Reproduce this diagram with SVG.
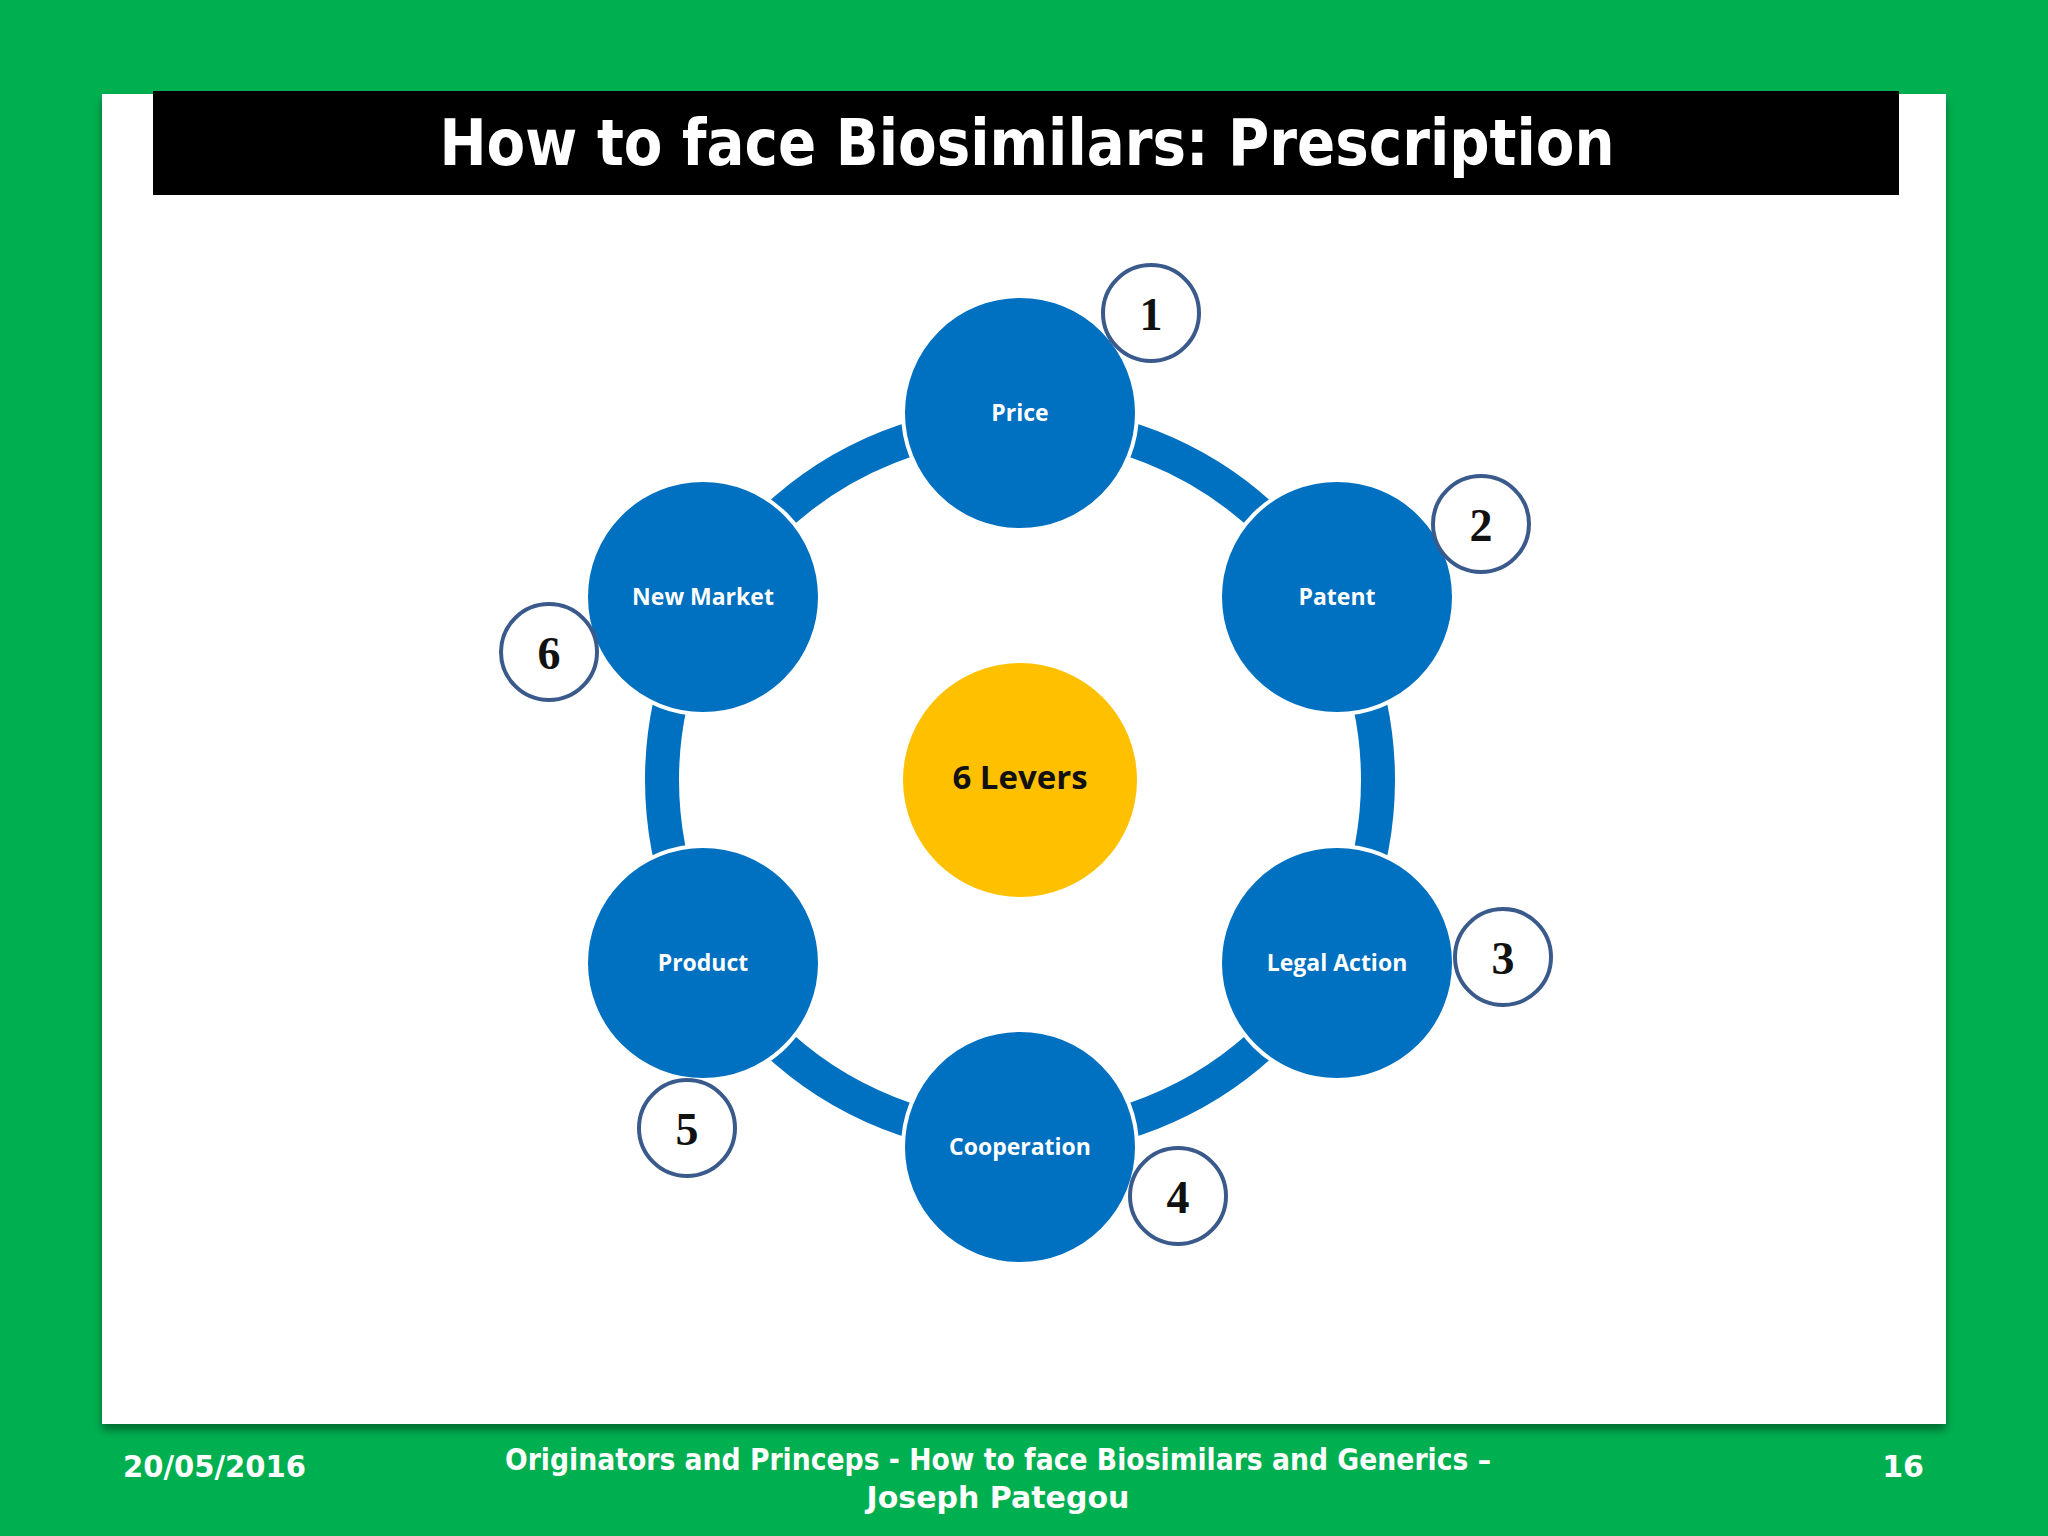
<svg xmlns="http://www.w3.org/2000/svg" width="2048" height="1536" viewBox="0 0 2048 1536">
<defs>
<style>
.node{fill:#0070C0}
.lbl{fill:#fff;font-family:"Open Sans","DejaVu Sans",sans-serif;font-weight:bold;font-size:23px;text-anchor:middle}
.num circle{fill:#fff;stroke:#3B5A8C;stroke-width:4}
.num text{font-family:"Liberation Serif",serif;font-weight:bold;font-size:46px;text-anchor:middle;fill:#111}
.foot{fill:#fff;font-family:"DejaVu Sans","Noto Sans",sans-serif;font-weight:bold;font-size:30px}
</style>
<filter id="sh" x="-5%" y="-5%" width="110%" height="115%"><feDropShadow dx="0" dy="6" stdDeviation="5" flood-color="#000" flood-opacity="0.4"/></filter>
</defs>
<rect width="2048" height="1536" fill="#00B050"/>
<rect x="102" y="94" width="1844" height="1330" fill="#fff" filter="url(#sh)"/>
<rect x="153" y="91" width="1746" height="104" fill="#000"/>
<text x="1027" y="165" text-anchor="middle" font-family="'DejaVu Sans',sans-serif" font-weight="bold" font-size="64" fill="#fff" textLength="1175" lengthAdjust="spacingAndGlyphs">How to face Biosimilars: Prescription</text>
<g id="connectors"><circle cx="1020" cy="780" r="358" fill="none" stroke="#0070C0" stroke-width="34"/></g>
<g id="center"><circle cx="1020" cy="780" r="117" fill="#FFC000"/><text x="1020" y="789" text-anchor="middle" font-family="'Open Sans','DejaVu Sans',sans-serif" font-weight="bold" font-size="33" fill="#111">6 Levers</text></g>
<g id="price"><circle class="node" cx="1020" cy="413" r="117" stroke="#fff" stroke-width="4"/><text class="lbl" x="1020" y="421">Price</text></g>
<g id="patent"><circle class="node" cx="1337" cy="597" r="117" stroke="#fff" stroke-width="4"/><text class="lbl" x="1337" y="605">Patent</text></g>
<g id="legal"><circle class="node" cx="1337" cy="963" r="117" stroke="#fff" stroke-width="4"/><text class="lbl" x="1337" y="971">Legal Action</text></g>
<g id="coop"><circle class="node" cx="1020" cy="1147" r="117" stroke="#fff" stroke-width="4"/><text class="lbl" x="1020" y="1155">Cooperation</text></g>
<g id="product"><circle class="node" cx="703" cy="963" r="117" stroke="#fff" stroke-width="4"/><text class="lbl" x="703" y="971">Product</text></g>
<g id="newmarket"><circle class="node" cx="703" cy="597" r="117" stroke="#fff" stroke-width="4"/><text class="lbl" x="703" y="605">New Market</text></g>
<g id="n1" class="num"><circle cx="1151" cy="313" r="48"/><text x="1151" y="330">1</text></g>
<g id="n2" class="num"><circle cx="1481" cy="524" r="48"/><text x="1481" y="541">2</text></g>
<g id="n3" class="num"><circle cx="1503" cy="957" r="48"/><text x="1503" y="974">3</text></g>
<g id="n4" class="num"><circle cx="1178" cy="1196" r="48"/><text x="1178" y="1213">4</text></g>
<g id="n5" class="num"><circle cx="687" cy="1128" r="48"/><text x="687" y="1145">5</text></g>
<g id="n6" class="num"><circle cx="549" cy="652" r="48"/><text x="549" y="669">6</text></g>
<text class="foot" x="123" y="1477" textLength="183" lengthAdjust="spacingAndGlyphs">20/05/2016</text>
<text class="foot" x="998" y="1470" text-anchor="middle" textLength="986" lengthAdjust="spacingAndGlyphs">Originators and Princeps - How to face Biosimilars and Generics –</text>
<text class="foot" x="998" y="1508" text-anchor="middle">Joseph Pategou</text>
<text class="foot" x="1924" y="1477" text-anchor="end">16</text>
</svg>
